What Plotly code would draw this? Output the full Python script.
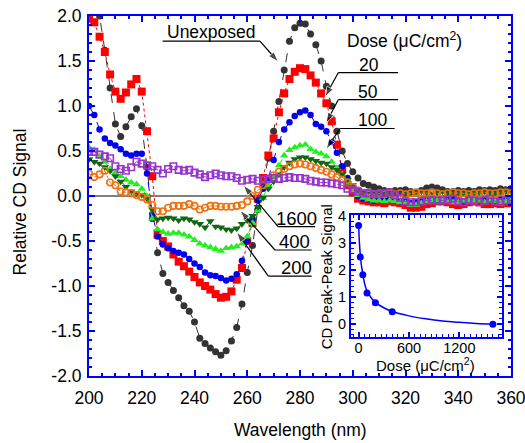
import plotly.graph_objects as go

# ---------------- data ----------------
wavelength = list(range(200, 362, 2))

unexposed = [2.3, 2.15, 2.0, 1.62, 1.2, 0.8, 0.66, 0.77, 0.88, 0.97,
             0.78, 0.32, -0.25, -0.63, -0.86, -0.96, -1.05, -1.13, -1.22, -1.28,
             -1.4, -1.58, -1.64, -1.69, -1.73, -1.77, -1.72, -1.61, -1.46, -1.2,
             -0.85, -0.55, -0.15, 0.12, 0.42, 0.72, 1.05, 1.4, 1.72, 1.87,
             1.92, 1.91, 1.8, 1.68, 1.5, 1.22, 1.0, 0.72, 0.5, 0.36,
             0.27, 0.2, 0.14, 0.12, 0.1, 0.08, 0.06, 0.05, 0.06, 0.06,
             0.07, 0.05, 0.04, 0.06, 0.09, 0.1, 0.09, 0.07, 0.05, 0.05,
             0.06, 0.05, 0.06, 0.05, 0.07, 0.06, 0.07, 0.06, 0.08, 0.07, 0.08]

dose20 = [1.97, 1.93, 1.77, 1.6, 1.35, 1.16, 1.08, 1.15, 1.24, 1.3,
          1.16, 0.72, 0.22, -0.43, -0.5, -0.56, -0.65, -0.73, -0.78, -0.84,
          -0.9, -0.96, -1.0, -1.04, -1.09, -1.13, -1.12, -1.06, -0.93, -0.8,
          -0.5, -0.3, -0.03, 0.2, 0.45, 0.64, 0.93, 1.14, 1.3, 1.38,
          1.42, 1.41, 1.34, 1.26, 1.14, 1.03, 0.83, 0.57, 0.3, 0.12,
          0.04, -0.03, -0.05, -0.06, -0.07, -0.07, -0.08, -0.06, -0.07, -0.08,
          -0.1, -0.13, -0.13, -0.12, -0.09, -0.08, -0.06, -0.06, -0.07, -0.09,
          -0.1, -0.09, -0.07, -0.06, -0.07, -0.09, -0.09, -0.08, -0.09, -0.08, -0.08]

dose50 = [1.0, 0.9, 0.74, 0.64, 0.59, 0.56, 0.52, 0.47, 0.45, 0.47,
          0.47, 0.25, -0.2, -0.45, -0.54, -0.58, -0.61, -0.63, -0.65, -0.7,
          -0.75, -0.79, -0.85, -0.88, -0.89, -0.91, -0.94, -0.92, -0.87, -0.72,
          -0.5, -0.25, -0.05, 0.08, 0.2, 0.4, 0.6, 0.74, 0.82, 0.89,
          0.93, 0.95, 0.9, 0.8, 0.77, 0.72, 0.6, 0.48, 0.33, 0.2,
          0.06, 0.0, -0.03, -0.04, -0.05, -0.04, -0.05, -0.04, -0.05, -0.06,
          -0.06, -0.08, -0.07, -0.05, -0.04, -0.04, -0.05, -0.05, -0.04, -0.03,
          -0.05, -0.06, -0.04, -0.03, -0.05, -0.04, -0.05, -0.06, -0.04, -0.05, -0.04]

dose100 = [0.54, 0.51, 0.44, 0.38, 0.3, 0.26, 0.22, 0.18, 0.15, 0.13,
           0.08, 0.0, -0.25, -0.37, -0.4, -0.42, -0.41, -0.41, -0.43, -0.45,
           -0.49, -0.53, -0.55, -0.57, -0.59, -0.61, -0.58, -0.57, -0.56, -0.53,
           -0.45, -0.3, -0.16, -0.02, 0.12, 0.22, 0.34, 0.45, 0.51, 0.54,
           0.56, 0.57, 0.52, 0.49, 0.47, 0.44, 0.38, 0.31, 0.24, 0.15,
           0.06, 0.01, -0.02, -0.04, -0.05, -0.05, -0.06, -0.05, -0.06, -0.07,
           -0.08, -0.1, -0.1, -0.08, -0.06, -0.05, -0.05, -0.05, -0.06, -0.07,
           -0.07, -0.06, -0.05, -0.05, -0.06, -0.07, -0.06, -0.06, -0.07, -0.06, -0.05]

dose200 = [0.41, 0.38, 0.36, 0.32, 0.28, 0.22, 0.16, 0.1, 0.05, 0.03,
           0.01, -0.03, -0.15, -0.26, -0.25, -0.24, -0.25, -0.27, -0.25, -0.26,
           -0.29, -0.31, -0.35, -0.28, -0.34, -0.35, -0.37, -0.38, -0.36, -0.31,
           -0.27, -0.22, -0.12, -0.02, 0.08, 0.16, 0.24, 0.32, 0.37, 0.41,
           0.43, 0.43, 0.41, 0.39, 0.37, 0.36, 0.32, 0.29, 0.24, 0.18,
           0.12, 0.06, 0.04, 0.05, 0.04, 0.03, 0.03, 0.04, 0.03, 0.02,
           0.02, 0.03, 0.04, 0.05, 0.04, 0.03, 0.04, 0.05, 0.04, 0.03,
           0.02, 0.03, 0.04, 0.03, 0.04, 0.05, 0.04, 0.03, 0.04, 0.05, 0.05]

dose400 = [0.25, 0.21, 0.24, 0.28, 0.15, 0.12, 0.05, 0.04, 0.03, 0.01,
           -0.01, -0.04, -0.1, -0.17, -0.17, -0.13, -0.11, -0.11, -0.11, -0.09,
           -0.11, -0.15, -0.13, -0.11, -0.11, -0.12, -0.12, -0.12, -0.11, -0.1,
           -0.06, 0.0, 0.07, 0.12, 0.18, 0.23, 0.27, 0.3, 0.33, 0.35,
           0.36, 0.35, 0.33, 0.31, 0.29, 0.27, 0.24, 0.21, 0.18, 0.15,
           0.1, 0.06, 0.03, 0.02, 0.02, 0.03, 0.02, 0.03, 0.02, 0.03,
           0.02, 0.03, 0.04, 0.03, 0.03, 0.04, 0.03, 0.02, 0.03, 0.04,
           0.03, 0.03, 0.02, 0.03, 0.03, 0.04, 0.03, 0.03, 0.04, 0.04, 0.03]

dose1600 = [0.49, 0.49, 0.46, 0.44, 0.42, 0.33, 0.3, 0.28, 0.32, 0.38,
            0.36, 0.34, 0.33, 0.29, 0.25, 0.3, 0.33, 0.29, 0.28, 0.29,
            0.26, 0.24, 0.21, 0.23, 0.25, 0.23, 0.22, 0.22, 0.2, 0.17,
            0.18, 0.19, 0.17, 0.18, 0.19, 0.2, 0.19, 0.2, 0.21, 0.2,
            0.2, 0.19, 0.17, 0.16, 0.15, 0.15, 0.14, 0.13, 0.12, 0.08,
            0.07, 0.05, 0.03, 0.03, 0.02, 0.02, 0.03, 0.04, 0.01, -0.02,
            -0.06, -0.07, -0.07, -0.06, -0.05, -0.05, -0.05, -0.05, -0.04, -0.03,
            -0.06, -0.07, -0.05, -0.05, -0.07, -0.05, -0.03, -0.06, -0.07, -0.05, -0.05]

# inset: CD peak-peak signal vs dose
inset_dose = [0, 20, 50, 100, 200, 400, 1600]
inset_signal = [3.65, 2.48, 1.82, 1.15, 0.79, 0.45, -0.01]
fit_dose = [0, 5, 10, 20, 30, 50, 75, 100, 150, 200, 300, 400, 600, 800, 1000, 1200, 1400, 1600]
fit_signal = [3.72, 3.3, 3.0, 2.55, 2.25, 1.85, 1.45, 1.22, 0.97, 0.8, 0.6, 0.46, 0.3, 0.19, 0.11, 0.06, 0.02, -0.01]

y_tickvals = [-2.0, -1.5, -1.0, -0.5, 0.0, 0.5, 1.0, 1.5, 2.0]
y_ticktext = ["-2.0", "-1.5", "-1.0", "-0.5", "0.0", "0.5", "1.0", "1.5", "2.0"]
x_tickvals = [200, 220, 240, 260, 280, 300, 320, 340, 360]
inset_xticks = [0, 600, 1200]
inset_yticks = [0, 1, 2, 3, 4]

FONT = "Liberation Sans, Arial, sans-serif"
AX = "#0000ff"

series = [
    ("Unexposed", unexposed, "#333333", "circle", 7, "dash"),
    ("20", dose20, "#ff0000", "square", 8, "dot"),
    ("50", dose50, "#0000ee", "circle", 6.5, "dash"),
    ("100", dose100, "#22ee22", "triangle-up", 7.5, "dash"),
    ("200", dose200, "#116611", "triangle-down", 7.5, "dash"),
    ("400", dose400, "#f07010", "circle-open", 6.5, "dot"),
    ("1600", dose1600, "#9933cc", "square-open", 6.5, "dash"),
]

fig = go.Figure()
for name, ys, col, sym, size, dash in series:
    mk = dict(color=col, symbol=sym, size=size)
    if sym.endswith("open"):
        mk["line"] = dict(color=col, width=1.6)
    fig.add_trace(go.Scatter(x=wavelength, y=ys, mode="lines+markers", name=name,
                             line=dict(color=col, width=1, dash=dash), marker=mk,
                             xaxis="x", yaxis="y", showlegend=False))

fig.add_trace(go.Scatter(x=fit_dose, y=fit_signal, mode="lines",
                         line=dict(color="#0000ff", width=1.5, shape="spline", smoothing=1.0),
                         xaxis="x2", yaxis="y2", showlegend=False))
fig.add_trace(go.Scatter(x=inset_dose, y=inset_signal, mode="markers",
                         marker=dict(color="#0000ff", size=7, symbol="circle"),
                         xaxis="x2", yaxis="y2", showlegend=False))

axis_common = dict(showline=True, linecolor=AX, linewidth=2, ticks="inside",
                   tickcolor=AX, tickwidth=1.5, mirror="ticks", showgrid=False,
                   ticklabeloverflow="allow")

fig.update_layout(
    width=525, height=443,
    margin=dict(l=89, r=14, t=16, b=67, autoexpand=False),
    paper_bgcolor="white", plot_bgcolor="white",
    font=dict(family=FONT, color="black"),
    xaxis=dict(range=[200, 360], tickvals=x_tickvals, ticklen=6, ticklabelstandoff=5,
               minor=dict(dtick=5, ticklen=3, ticks="inside", tickcolor=AX, tickwidth=1.5),
               tickfont=dict(family=FONT, size=17.5, color="black"),
               zeroline=False, domain=[0, 1], **axis_common),
    yaxis=dict(range=[-2, 2], tickvals=y_tickvals, ticktext=y_ticktext, ticklen=6,
               ticklabelstandoff=2,
               minor=dict(dtick=0.1, ticklen=3, ticks="inside", tickcolor=AX, tickwidth=1.5),
               tickfont=dict(family=FONT, size=17.5, color="black"),
               zeroline=True, zerolinecolor="#808080", zerolinewidth=2, domain=[0, 1],
               **axis_common),
    xaxis2=dict(range=[-90, 1710], tickvals=inset_xticks, ticklen=5, anchor="y2",
                domain=[0.621, 0.979], ticklabelstandoff=-4,
                minor=dict(dtick=600 / 9, tick0=0, ticklen=3, ticks="inside", tickcolor=AX, tickwidth=1.2),
                tickfont=dict(family=FONT, size=14.5, color="black"),
                zeroline=False, **axis_common),
    yaxis2=dict(range=[-0.5, 4.02], tickvals=inset_yticks, ticklen=5, anchor="x2",
                domain=[0.107, 0.446],
                minor=dict(dtick=0.2, ticklen=3, ticks="inside", tickcolor=AX, tickwidth=1.2),
                tickfont=dict(family=FONT, size=14.5, color="black"),
                zeroline=False, **axis_common),
)

# axis titles as annotations (paper coords)
titles = [
    ("Wavelength (nm)", 0.502, -0.15, 0, 17.5),
    ("Relative CD Signal", -0.1635, 0.482, -90, 17.5),
    ("Dose (μC/cm<sup>2</sup>)", 0.798, 0.031, 0, 15),
    ("CD Peak-Peak Signal", 0.563, 0.276, -90, 15),
]
for txt, px, py, ang, fs in titles:
    fig.add_annotation(x=px, y=py, xref="paper", yref="paper", text=txt, showarrow=False,
                       textangle=ang, xanchor="center", yanchor="middle",
                       font=dict(family=FONT, size=fs, color="black"))

# white background for the inset, drawn inside the inset subplot (under its traces)
fig.add_shape(type="rect", xref="x2 domain", yref="y2 domain", x0=0, x1=1, y0=0, y1=1,
              fillcolor="white", line=dict(width=0), layer="below")

# labels with underlines and arrows
labels = [
    # text, text x, text y, underline x0, x1, y, arrow tip x, tip y, font size
    ("Unexposed", 246.6, 1.82, 227.9, 264.8, 1.72, 271.8, 1.49, 17.5),
    ("20", 306.2, 1.46, 294.5, 317.2, 1.37, 289.5, 1.10, 17.5),
    ("50", 305.8, 1.16, 294.5, 317.2, 1.07, 289.9, 0.81, 17.5),
    ("100", 307.3, 0.84, 295.2, 315.9, 0.75, 289.9, 0.52, 17.5),
    ("1600", 278.7, -0.25, 271.7, 285.7, -0.34, 258.5, 0.12, 18.5),
    ("400", 278.1, -0.51, 270.5, 284.4, -0.60, 257.3, -0.16, 18.5),
    ("200", 278.7, -0.79, 268.0, 284.4, -0.89, 256.0, -0.40, 18.5),
]
for txt, tx, ty, ux0, ux1, uy, tipx, tipy, fs in labels:
    fig.add_annotation(x=tx, y=ty, xref="x", yref="y", text=txt, showarrow=False,
                       font=dict(family=FONT, size=fs, color="black"))
    fig.add_shape(type="line", xref="x", yref="y", x0=ux0, x1=ux1, y0=uy, y1=uy,
                  line=dict(color="black", width=1.2), layer="above")
    tail_x = ux1 if txt == "Unexposed" else ux0
    fig.add_trace(go.Scatter(x=[tail_x, tipx], y=[uy, tipy], mode="lines+markers",
                             line=dict(color="black", width=1.2),
                             marker=dict(symbol=["circle", "arrow"], size=[0, 11],
                                         angleref="previous", color="black"),
                             xaxis="x", yaxis="y", showlegend=False, hoverinfo="skip"))

fig.add_annotation(x=319.8, y=1.73, xref="x", yref="y",
                   text="Dose (μC/cm<sup>2</sup>)", showarrow=False,
                   font=dict(family=FONT, size=17.5, color="black"))

fig.write_html("out.html", config={"displayModeBar": False},
               post_script="document.body.style.margin='0';document.body.style.overflow='hidden';")
